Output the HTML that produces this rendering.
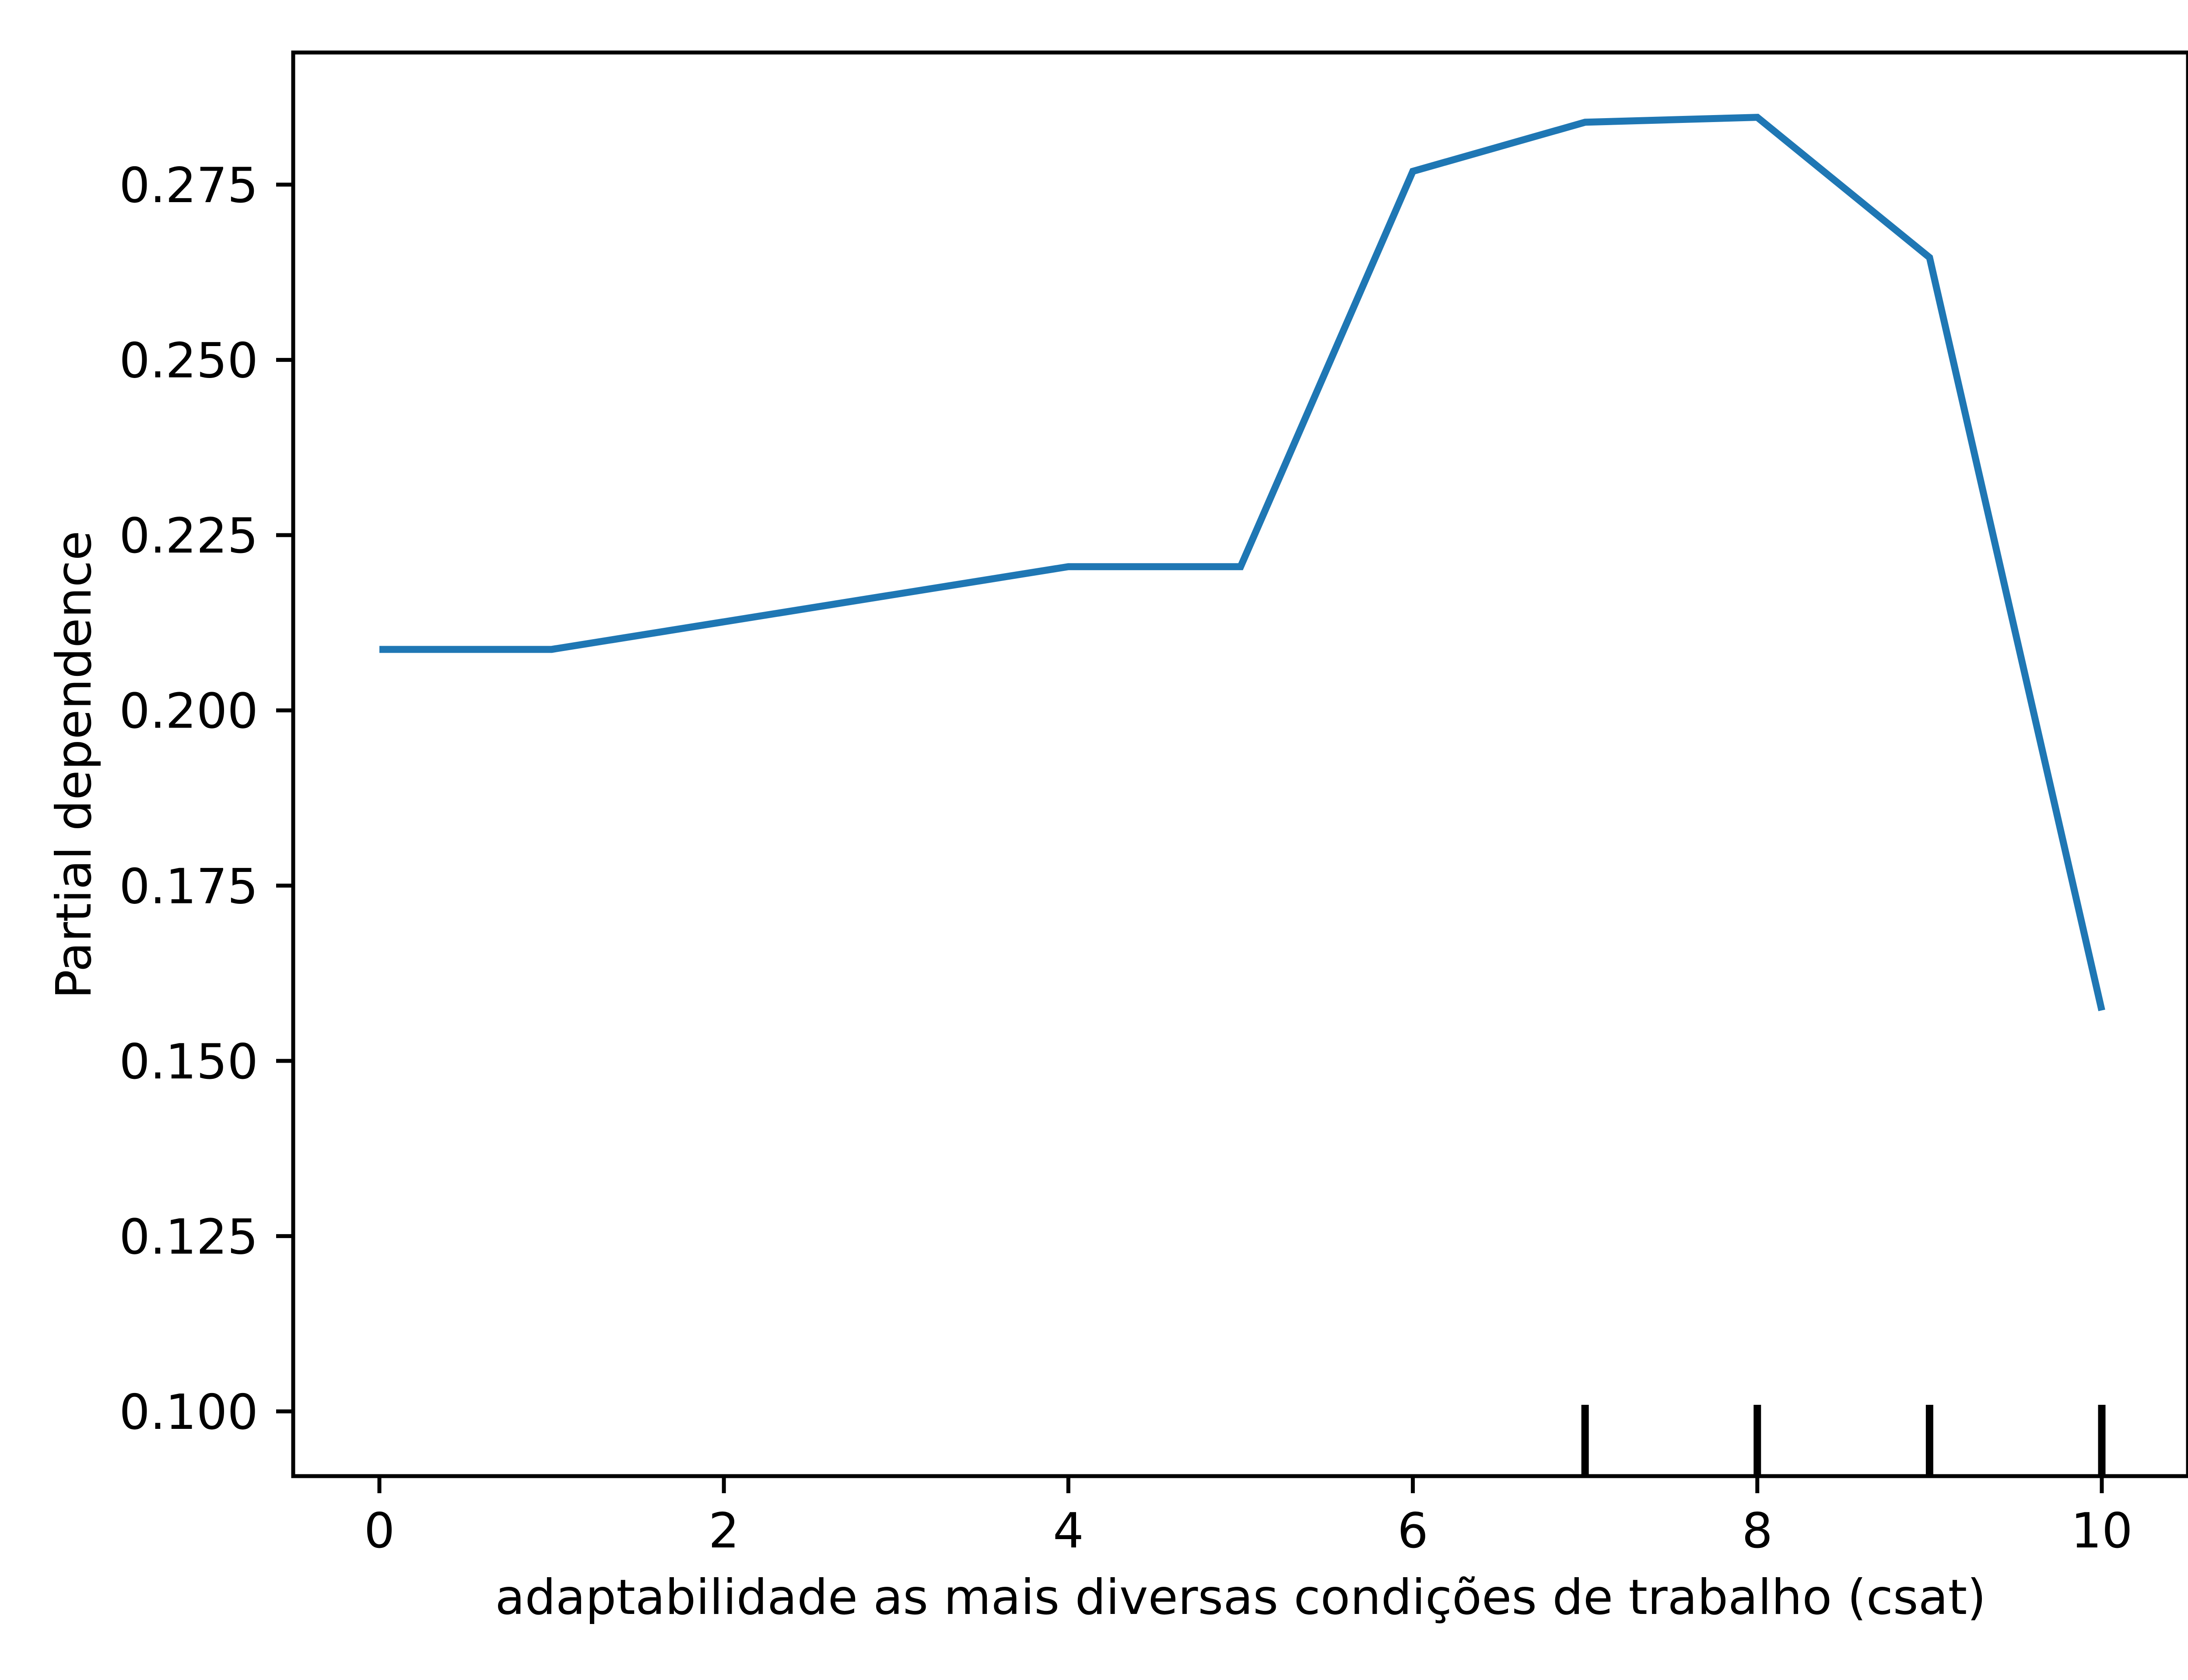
<!DOCTYPE html>
<html><head><meta charset="utf-8"><style>html,body{margin:0;padding:0;background:#fff}svg{display:block}text{font-family:"DejaVu Sans","Liberation Sans",sans-serif;fill:#000}</style></head>
<body>
<svg id="chart" width="5120" height="3840" viewBox="0 0 5120 3840" xmlns="http://www.w3.org/2000/svg">
<rect x="0" y="0" width="5120" height="3840" fill="#fff"/>
<g id="plot"></g>
<text x="2835" y="3689" font-size="111" text-anchor="middle">adaptabilidade as mais diversas condições de trabalho (csat)</text>
<text transform="translate(207,1748) rotate(-90)" font-size="111" text-anchor="middle">Partial dependence</text>
</svg>
<script>
const xValues = [0, 1, 4, 5, 6, 7, 8, 9, 10];
const yValues = [0.2087, 0.2087, 0.2205, 0.2205, 0.2769, 0.2839, 0.2846, 0.2646, 0.1572];
const xTicks = [0, 2, 4, 6, 8, 10];
const yTicks = [0.100, 0.125, 0.150, 0.175, 0.200, 0.225, 0.250, 0.275];
const deciles = [7, 8, 9, 10];

const L=670,R=5000,T=120,B=3374;
const sx=v=>867+(4803-867)*v/10;
const sy=v=>3226-(v-0.100)*(3226-422)/0.175;
const NS='http://www.w3.org/2000/svg';
const g=document.getElementById('plot');
function el(tag,attrs){const e=document.createElementNS(NS,tag);for(const k in attrs)e.setAttribute(k,attrs[k]);g.appendChild(e);return e;}

const pts=xValues.map((x,i)=>sx(x)+','+sy(yValues[i])).join(' ');
const line=el('polyline',{points:pts,fill:'none',stroke:'#1f77b4','stroke-width':16,'stroke-linejoin':'miter'});



deciles.forEach(d=>{
  const r=el('line',{x1:sx(d),x2:sx(d),y1:3211,y2:B,stroke:'#000','stroke-width':17});
  
  
});

const frame=el('rect',{x:L,y:T,width:R-L,height:B-T,fill:'none',stroke:'#000','stroke-width':9});



xTicks.forEach(t=>{
  const tk=el('line',{x1:sx(t),x2:sx(t),y1:B,y2:B+39,stroke:'#000','stroke-width':9});
  
  
  const tx=el('text',{x:sx(t),y:3537,'font-size':111,'text-anchor':'middle'});
  tx.textContent=String(t);
  
  
});
yTicks.forEach(t=>{
  const tk=el('line',{x1:L-39,x2:L,y1:sy(t),y2:sy(t),stroke:'#000','stroke-width':9});
  
  
  const tx=el('text',{x:590,y:sy(t)+40,'font-size':111,'text-anchor':'end'});
  tx.textContent=t.toFixed(3);
  
  
});
</script>
</body></html>
